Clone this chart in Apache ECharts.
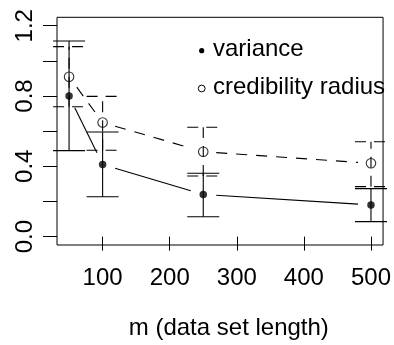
<!DOCTYPE html>
<html>
<head>
<meta charset="utf-8">
<script src="https://cdn.jsdelivr.net/npm/echarts@6/dist/echarts.min.js"></script>
<style>
html,body{margin:0;padding:0;background:#fff;}
#chart{width:394px;height:345px;}
</style>
</head>
<body>
<div id="chart"></div>
<script>
// ---- data ----
const mValues      = [50, 100, 250, 500];
const varianceMean = [0.80, 0.41, 0.24, 0.18];
const varianceLow  = [0.489, 0.227, 0.113, 0.085];
const varianceHigh = [1.113, 0.595, 0.360, 0.273];
const credMean     = [0.910, 0.649, 0.483, 0.417];
const credLow      = [0.739, 0.491, 0.345, 0.284];
const credHigh     = [1.081, 0.798, 0.622, 0.540];
const xTicks       = [100, 200, 300, 400, 500];
const yTicks       = [0, 0.2, 0.4, 0.6, 0.8, 1.0, 1.2];
const yLabelTicks  = [0, 0.4, 0.8, 1.2];
const legendNames  = ['variance', 'credibility radius'];
const xTitle       = 'm (data set length)';

const FONT = '"Liberation Sans", Arial, Helvetica, sans-serif';
const INK = '#000';

function errorBars(low, high) {
  return mValues.map((m, i) => [m, low[i], high[i]]);
}
function segments(means) {
  const out = [];
  for (let i = 0; i < mValues.length - 1; i++) {
    out.push([mValues[i], means[i], mValues[i + 1], means[i + 1]]);
  }
  return out;
}

function barRenderer(dash) {
  return function (params, api) {
    const x = api.value(0), lo = api.value(1), hi = api.value(2);
    const pLo = api.coord([x, lo]);
    const pHi = api.coord([x, hi]);
    const w = 16;
    const style = { stroke: INK, lineWidth: 1.1, lineDash: dash, fill: null };
    return {
      type: 'group',
      children: [
        { type: 'line', shape: { x1: pLo[0], y1: pLo[1], x2: pHi[0], y2: pHi[1] }, style: style },
        { type: 'line', shape: { x1: pHi[0] - w, y1: pHi[1], x2: pHi[0] + w, y2: pHi[1] }, style: style },
        { type: 'line', shape: { x1: pLo[0] - w, y1: pLo[1], x2: pLo[0] + w, y2: pLo[1] }, style: style }
      ]
    };
  };
}

function segRenderer(dash) {
  return function (params, api) {
    const a = api.coord([api.value(0), api.value(1)]);
    const b = api.coord([api.value(2), api.value(3)]);
    const dx = b[0] - a[0], dy = b[1] - a[1];
    const len = Math.sqrt(dx * dx + dy * dy);
    const gap = 13;
    if (len <= 2 * gap) return null;
    const ux = dx / len, uy = dy / len;
    return {
      type: 'line',
      shape: { x1: a[0] + ux * gap, y1: a[1] + uy * gap, x2: b[0] - ux * gap, y2: b[1] - uy * gap },
      style: { stroke: INK, lineWidth: 1.1, lineDash: dash, fill: null }
    };
  };
}

const chart = echarts.init(document.getElementById('chart'), null, { renderer: 'canvas' });

const option = {
  backgroundColor: '#fff',
  animation: false,
  grid: {
    show: true, left: 57, right: 5.3, top: 17.3, bottom: 100,
    borderColor: INK, borderWidth: 1, backgroundColor: 'transparent'
  },
  xAxis: {
    type: 'value', min: 32, max: 518,
    axisLine: { show: false },
    splitLine: { show: false },
    axisTick: { show: true, length: 14, inside: false, customValues: xTicks, lineStyle: { color: INK, width: 1 } },
    axisLabel: { customValues: xTicks, margin: 21, color: INK, fontSize: 24, fontFamily: FONT }
  },
  yAxis: {
    type: 'value', min: -0.048, max: 1.248,
    axisLine: { show: false },
    splitLine: { show: false },
    axisTick: { show: true, length: 14, inside: false, customValues: yTicks, lineStyle: { color: INK, width: 1 } },
    axisLabel: {
      customValues: yLabelTicks, rotate: 90, margin: 20, color: INK, fontSize: 24, fontFamily: FONT,
      formatter: v => Number(v).toFixed(1)
    }
  },
  series: [
    { type: 'custom', name: 'variance bars', data: errorBars(varianceLow, varianceHigh),
      encode: { x: 0, y: [1, 2] }, renderItem: barRenderer(null), silent: true, z: 2 },
    { type: 'custom', name: 'credibility bars', data: errorBars(credLow, credHigh),
      encode: { x: 0, y: [1, 2] }, renderItem: barRenderer([11, 8]), silent: true, z: 2 },
    { type: 'custom', name: 'variance line', data: segments(varianceMean),
      encode: { x: [0, 2], y: [1, 3] }, renderItem: segRenderer(null), silent: true, z: 2 },
    { type: 'custom', name: 'credibility line', data: segments(credMean),
      encode: { x: [0, 2], y: [1, 3] }, renderItem: segRenderer([11, 9]), silent: true, z: 2 },
    { type: 'scatter', name: legendNames[0], data: mValues.map((m, i) => [m, varianceMean[i]]),
      symbol: 'circle', symbolSize: 7.5, itemStyle: { color: INK }, z: 3 },
    { type: 'scatter', name: legendNames[1], data: mValues.map((m, i) => [m, credMean[i]]),
      symbol: 'circle', symbolSize: 9.5,
      itemStyle: { color: 'rgba(0,0,0,0)', borderColor: INK, borderWidth: 1.1 }, z: 3 }
  ],
  graphic: [
    { type: 'circle', shape: { cx: 201.7, cy: 50.7, r: 2.6 }, style: { fill: INK }, silent: true },
    { type: 'text', x: 213, y: 49, style: { text: legendNames[0], fill: INK, font: '24px ' + FONT, verticalAlign: 'middle', align: 'left' }, silent: true },
    { type: 'circle', shape: { cx: 201.7, cy: 88.5, r: 3.4 }, style: { fill: 'none', stroke: INK, lineWidth: 1 }, silent: true },
    { type: 'text', x: 213, y: 87.3, style: { text: legendNames[1], fill: INK, font: '24px ' + FONT, verticalAlign: 'middle', align: 'left' }, silent: true },
    { type: 'text', x: 228.8, y: 328.7, style: { text: xTitle, fill: INK, font: '24px ' + FONT, verticalAlign: 'middle', align: 'center' }, silent: true }
  ]
};
chart.setOption(option);
</script>
</body>
</html>
